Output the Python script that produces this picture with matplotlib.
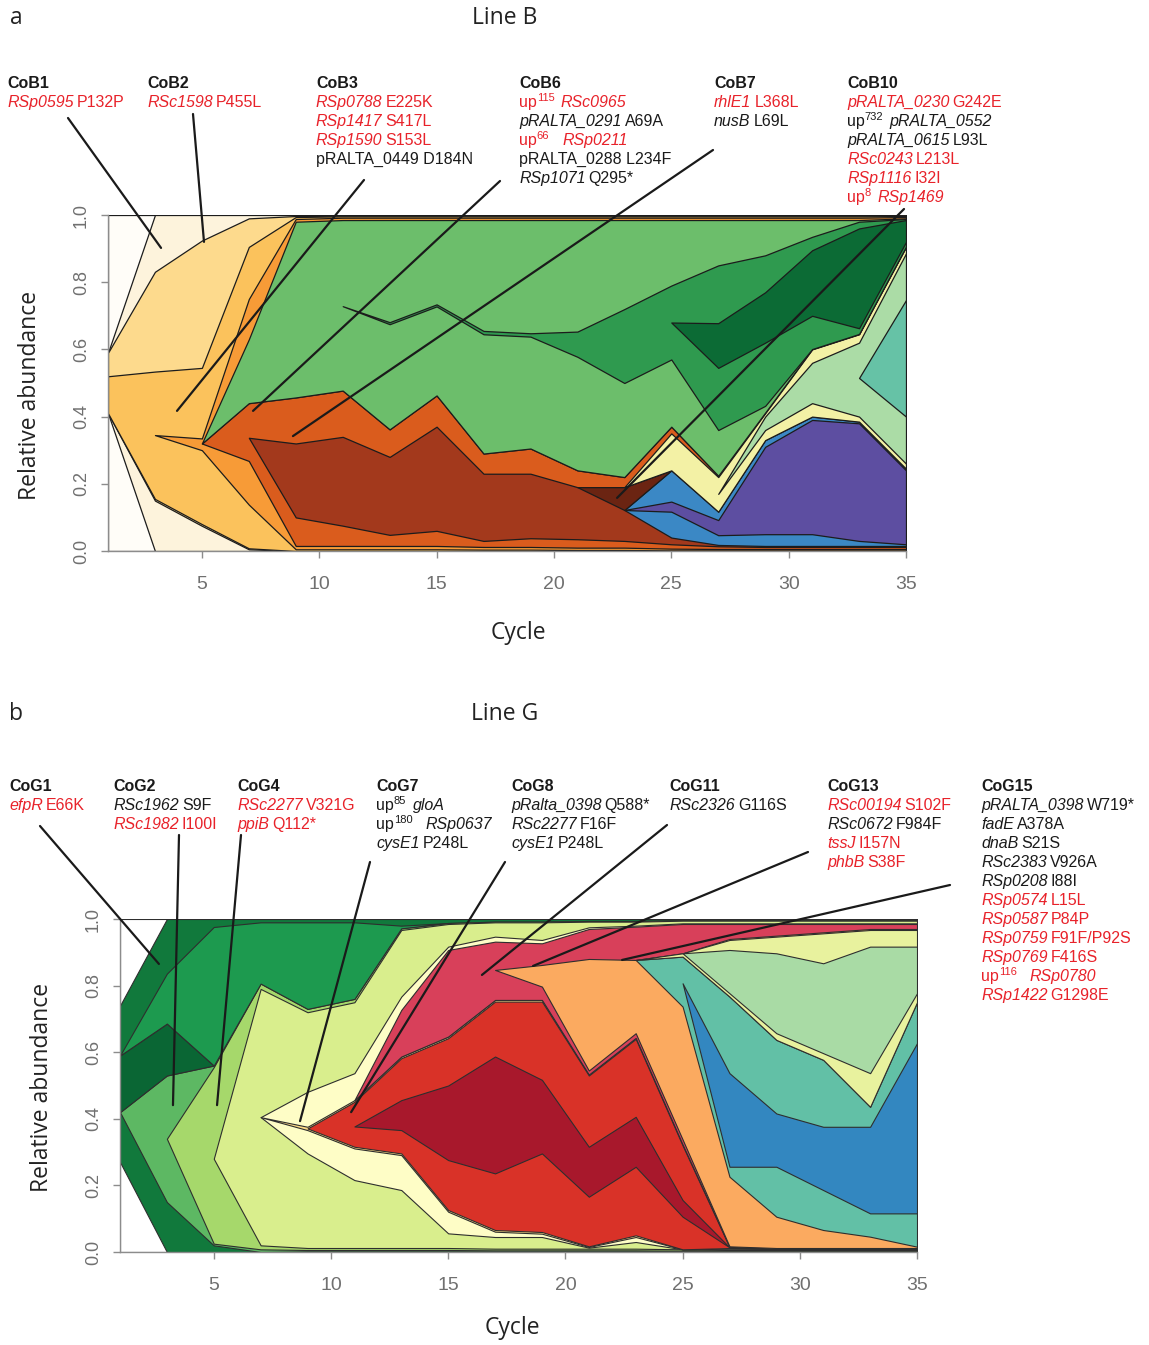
import re
import numpy as np
import matplotlib
matplotlib.use('Agg')
import matplotlib.pyplot as plt

W, H = 1149, 1345
RED = '#E8222A'
BLK = '#1A1A1A'

CYCLES = [1, 3, 5, 7, 9, 11, 13, 15, 17, 19, 21, 23, 25, 27, 29, 31, 33, 35]
XTICKS = [5, 10, 15, 20, 25, 30, 35]
YTICKS = [0.0, 0.2, 0.4, 0.6, 0.8, 1.0]
YTICKLABELS = ['0.0', '0.2', '0.4', '0.6', '0.8', '1.0']
Z = [0, 0, 0, 0, 0, 0, 0, 0, 0, 0, 0, 0, 0, 0, 0, 0, 0, 0]

# ---------------- Panel a (Line B): own abundance of each genotype, split below / above its descendants
A_ANC_LO = [0.41, 0, 0, 0, 0, 0, 0, 0, 0, 0, 0, 0, 0, 0, 0, 0, 0, 0]
A_ANC_HI = [0.41, 0, 0, 0, 0, 0, 0, 0, 0, 0, 0, 0, 0, 0, 0, 0, 0, 0]
A_B1_LO = [0, 0.15, 0.075, 0.005, 0, 0, 0, 0, 0, 0, 0, 0, 0, 0, 0, 0, 0, 0]
A_B1_HI = [0, 0.169, 0.076, 0.01, 0.003, 0.002, 0.002, 0.002, 0.002, 0.002, 0.002, 0.002, 0.002, 0.002, 0.002, 0.002, 0.002, 0.001]
A_B2_LO = [0, 0.005, 0.005, 0.003, 0, 0, 0, 0, 0, 0, 0, 0, 0, 0, 0, 0, 0, 0]
A_B2_HI = [0.07, 0.297, 0.379, 0.085, 0.003, 0.002, 0.002, 0.002, 0.002, 0.002, 0.002, 0.002, 0.002, 0.002, 0.002, 0.002, 0.002, 0.002]
A_B3_LO = [0.11, 0.19, 0.22, 0.13, 0.005, 0.005, 0.005, 0.005, 0.004, 0.004, 0.003, 0.003, 0.002, 0.002, 0.002, 0.002, 0.002, 0.002]
A_B3_HI = [0, 0.189, 0.21, 0.155, 0.006, 0.004, 0.004, 0.004, 0.004, 0.004, 0.004, 0.004, 0.004, 0.004, 0.004, 0.004, 0.004, 0.003]
A_O_LO = [0, 0, 0.02, 0.13, 0.01, 0.01, 0.01, 0.01, 0.008, 0.008, 0.007, 0.007, 0.005, 0.004, 0.004, 0.004, 0.004, 0.004]
A_O_HI = [0, 0, 0.015, 0.12, 0.008, 0.007, 0.007, 0.007, 0.007, 0.007, 0.007, 0.007, 0.007, 0.007, 0.007, 0.007, 0.007, 0.004]
A_R_LO = [0, 0, 0, 0.069, 0.085, 0.06, 0.033, 0.045, 0.018, 0.026, 0.025, 0.02, 0.013, 0.008, 0.006, 0.006, 0.006, 0.006]
A_R_HI = [0, 0, 0, 0.103, 0.137, 0.137, 0.082, 0.093, 0.06, 0.075, 0.05, 0.03, 0.02, 0.004, 0.002, 0.001, 0.001, 0.001]
A_BR = [0, 0, 0, 0, 0.22, 0.263, 0.232, 0.31, 0.2, 0.192, 0.155, 0.092, 0.02, 0.004, 0.003, 0.003, 0.003, 0.003]
A_BL_LO = [0, 0, 0, 0, 0, 0, 0, 0, 0, 0, 0, 0, 0.077, 0.029, 0.035, 0.035, 0.015, 0.005]
A_P = [0, 0, 0, 0, 0, 0, 0, 0, 0, 0, 0, 0, 0.03, 0.045, 0.26, 0.34, 0.35, 0.22]
A_BL_HI = [0, 0, 0, 0, 0, 0, 0, 0, 0, 0, 0, 0, 0.093, 0.025, 0.02, 0.01, 0.005, 0.005]
A_DB = [0, 0, 0, 0, 0, 0, 0, 0, 0, 0, 0, 0.068, 0, 0, 0, 0, 0, 0]
A_Y_LO = [0, 0, 0, 0, 0, 0, 0, 0, 0, 0, 0, 0, 0.11, 0.053, 0.03, 0.04, 0.015, 0.015]
A_Y_HI = [0, 0, 0, 0, 0, 0, 0, 0, 0, 0, 0, 0, 0, 0.05, 0.01, 0.04, 0.025, 0.019]
A_LG_LO = [0, 0, 0, 0, 0, 0, 0, 0, 0, 0, 0, 0, 0, 0, 0.04, 0.12, 0.115, 0.14]
A_LG_HI = [0, 0, 0, 0, 0, 0, 0, 0, 0, 0, 0, 0, 0, 0, 0, 0, 0.105, 0.139]
A_T = [0, 0, 0, 0, 0, 0, 0, 0, 0, 0, 0, 0, 0, 0, 0, 0, 0, 0.347]
A_G1_LO = [0, 0, 0, 0.19, 0.523, 0.25, 0.313, 0.265, 0.355, 0.333, 0.338, 0.28, 0.2, 0.136, 0.02, 0, 0, 0]
A_G1_HI = [0, 0, 0, 0, 0, 0.255, 0.304, 0.251, 0.33, 0.337, 0.332, 0.265, 0.195, 0.135, 0.105, 0.05, 0.005, 0.002]
A_G2_LO = [0, 0, 0, 0, 0, 0, 0.006, 0.006, 0.01, 0.01, 0.075, 0.22, 0.11, 0.185, 0.188, 0.099, 0.017, 0.014]
A_G2_HI = [0, 0, 0, 0, 0, 0, 0, 0, 0, 0, 0, 0, 0.11, 0.172, 0.11, 0.04, 0.02, 0.003]
A_G3 = [0, 0, 0, 0, 0, 0, 0, 0, 0, 0, 0, 0, 0, 0.133, 0.15, 0.195, 0.297, 0.065]

# ---------------- Panel b (Line G)
B_ANC_LO = [0.27, 0, 0, 0, 0, 0, 0, 0, 0, 0, 0, 0, 0, 0, 0, 0, 0, 0]
B_ANC_HI = [0.26, 0, 0, 0, 0, 0, 0, 0, 0, 0, 0, 0, 0, 0, 0, 0, 0, 0]
B_G1_LO = [0.15, 0.15, 0.02, 0, 0.002, 0.002, 0.002, 0.002, 0.002, 0.002, 0.002, 0.002, 0.002, 0.002, 0.002, 0.002, 0.002, 0.002]
B_G1_HI = [0.15, 0.164, 0.024, 0.01, 0.01, 0.01, 0.02, 0.012, 0.008, 0.008, 0.006, 0.006, 0.004, 0.004, 0.004, 0.004, 0.004, 0.004]
B_C2_LO = [0, 0.19, 0.005, 0.008, 0.004, 0.004, 0.004, 0.004, 0.003, 0.003, 0.003, 0.003, 0.002, 0.002, 0.002, 0.002, 0.002, 0.002]
B_C2_HI = [0, 0.19, 0.005, 0, 0, 0, 0, 0, 0, 0, 0, 0, 0, 0, 0, 0, 0, 0]
B_C4_LO = [0, 0, 0.255, 0.012, 0.006, 0.006, 0.006, 0.006, 0.005, 0.005, 0.005, 0.005, 0.004, 0.002, 0.002, 0.002, 0.002, 0.002]
B_C4_HI = [0, 0, 0.275, 0.016, 0.01, 0.01, 0.005, 0.003, 0.002, 0.002, 0.002, 0.002, 0.001, 0.001, 0.001, 0.001, 0.001, 0.001]
B_D9_LO = [0, 0, 0, 0.385, 0.284, 0.204, 0.174, 0.044, 0.035, 0.035, 0.003, 0.02, 0, 0.002, 0.002, 0.002, 0.002, 0.002]
B_D9_HI = [0, 0, 0, 0.385, 0.239, 0.213, 0.2, 0.068, 0.043, 0.053, 0.017, 0.012, 0.008, 0.008, 0.008, 0.008, 0.008, 0.008]
B_C7_LO = [0, 0, 0, 0, 0.07, 0.095, 0.105, 0.065, 0.016, 0.01, 0.002, 0.015, 0, 0.002, 0.001, 0.001, 0.001, 0.001]
B_C7_HI = [0, 0, 0, 0, 0.105, 0.081, 0.04, 0.01, 0.015, 0.01, 0.005, 0.003, 0.002, 0.002, 0.002, 0.002, 0.002, 0.002]
B_C8_LO = [0, 0, 0, 0, 0.005, 0.005, 0.005, 0.005, 0.005, 0.005, 0.002, 0.005, 0, 0.002, 0.001, 0.001, 0.001, 0.001]
B_C8_HI = [0, 0, 0, 0, 0.005, 0.005, 0.005, 0.005, 0.005, 0.005, 0.003, 0.003, 0.003, 0.001, 0, 0, 0, 0]
B_RED_LO = [0, 0, 0, 0, 0, 0.061, 0.07, 0.15, 0.17, 0.236, 0.149, 0.206, 0.098, 0.002, 0.001, 0.001, 0.001, 0.001]
B_RED_HI = [0, 0, 0, 0, 0, 0.074, 0.126, 0.142, 0.165, 0.235, 0.214, 0.234, 0.164, 0.001, 0, 0, 0, 0]
B_DR = [0, 0, 0, 0, 0, 0, 0.09, 0.224, 0.351, 0.221, 0.15, 0.15, 0.05, 0, 0, 0, 0, 0]
B_CRIM_LO = [0, 0, 0, 0, 0, 0, 0.14, 0.26, 0.09, 0.04, 0.012, 0.014, 0.015, 0.001, 0.001, 0.001, 0.001, 0.001]
B_CRIM_HI = [0, 0, 0, 0, 0, 0, 0, 0, 0.085, 0.065, 0.09, 0.1, 0.088, 0.045, 0.035, 0.025, 0.015, 0.015]
B_OR_LO = [0, 0, 0, 0, 0, 0, 0, 0, 0, 0.065, 0.335, 0.22, 0.399, 0.209, 0.094, 0.054, 0.034, 0.004]
B_OR_HI = [0, 0, 0, 0, 0, 0, 0, 0, 0, 0, 0, 0, 0, 0.003, 0.003, 0.003, 0.003, 0.003]
B_T_LO = [0, 0, 0, 0, 0, 0, 0, 0, 0, 0, 0, 0, 0.07, 0.03, 0.15, 0.12, 0.07, 0.1]
B_T_HI = [0, 0, 0, 0, 0, 0, 0, 0, 0, 0, 0, 0, 0.08, 0.23, 0.221, 0.201, 0.06, 0.123]
B_BL = [0, 0, 0, 0, 0, 0, 0, 0, 0, 0, 0, 0, 0, 0.281, 0.16, 0.19, 0.26, 0.511]
B_Y_LO = [0, 0, 0, 0, 0, 0, 0, 0, 0, 0, 0, 0, 0.01, 0.01, 0.02, 0.02, 0.101, 0.027]
B_Y_HI = [0, 0, 0, 0, 0, 0, 0, 0, 0, 0, 0, 0, 0, 0.03, 0.05, 0.09, 0.05, 0.05]
B_LG = [0, 0, 0, 0, 0, 0, 0, 0, 0, 0, 0, 0, 0, 0.13, 0.24, 0.27, 0.38, 0.14]
B_G1B = [0.17, 0.156, 0, 0, 0, 0, 0, 0, 0, 0, 0, 0, 0, 0, 0, 0, 0, 0]
B_GM = [0, 0.15, 0.416, 0.184, 0.26, 0.23, 0.008, 0, 0, 0, 0, 0, 0, 0, 0, 0, 0, 0]

# (name, parent, colour, own-below, own-above); children are stacked in list order
A_TREE = [
    ('anc', None, '#FFFDF8', A_ANC_LO, A_ANC_HI),
    ('B1', 'anc', '#FDF3DC', A_B1_LO, A_B1_HI),
    ('B2', 'B1', '#FDDA8D', A_B2_LO, A_B2_HI),
    ('B3', 'B2', '#FBC25C', A_B3_LO, A_B3_HI),
    ('O', 'B3', '#F79B37', A_O_LO, A_O_HI),
    ('R', 'O', '#DA5C1D', A_R_LO, A_R_HI),
    ('Br', 'R', '#A3391C', A_BR, Z),
    ('Bl', 'Br', '#3B88C5', A_BL_LO, A_BL_HI),
    ('P', 'Bl', '#5D4EA1', A_P, Z),
    ('DB', 'Br', '#6B2412', A_DB, Z),
    ('Y', 'R', '#F3F1A5', A_Y_LO, A_Y_HI),
    ('LG', 'Y', '#ABDCA6', A_LG_LO, A_LG_HI),
    ('T', 'LG', '#66C2A6', A_T, Z),
    ('G1', 'O', '#6CBE6B', A_G1_LO, A_G1_HI),
    ('G2', 'G1', '#2F9A4F', A_G2_LO, A_G2_HI),
    ('G3', 'G2', '#0C6B35', A_G3, Z),
]

B_TREE = [
    ('anc', None, '#FFFFFF', B_ANC_LO, B_ANC_HI),
    ('G1', 'anc', '#11793C', B_G1_LO, B_G1_HI),
    ('C2', 'G1', '#5DB863', B_C2_LO, B_C2_HI),
    ('C4', 'C2', '#A6D86B', B_C4_LO, B_C4_HI),
    ('D9', 'C4', '#D9EE8D', B_D9_LO, B_D9_HI),
    ('C7', 'D9', '#FEFDC6', B_C7_LO, B_C7_HI),
    ('C8', 'C7', '#FDDB86', B_C8_LO, B_C8_HI),
    ('Red', 'C8', '#D93228', B_RED_LO, B_RED_HI),
    ('DR', 'Red', '#A8182C', B_DR, Z),
    ('Crim', 'C7', '#D8405A', B_CRIM_LO, B_CRIM_HI),
    ('Or', 'Crim', '#FBAA60', B_OR_LO, B_OR_HI),
    ('T', 'Or', '#62C0A6', B_T_LO, B_T_HI),
    ('Bl', 'T', '#3387C0', B_BL, Z),
    ('Y', 'Or', '#E8F29E', B_Y_LO, B_Y_HI),
    ('LG', 'Y', '#A9DBA5', B_LG, Z),
    ('G1b', 'G1', '#0A6634', B_G1B, Z),
    ('Gm', 'G1', '#1D9A4F', B_GM, Z),
]

# ---------------- annotations: (header, x px, lines, pointer start px, pointer target (cycle, abundance))
A_LABELS = [
    ('CoB1', 7, [('<i>RSp0595</i> P132P', RED)], (68, 118), (3.26, 0.902)),
    ('CoB2', 147, [('<i>RSc1598</i> P455L', RED)], (193, 114), (5.09, 0.92)),
    ('CoB3', 316, [('<i>RSp0788</i> E225K', RED), ('<i>RSp1417</i> S417L', RED),
                   ('<i>RSp1590</i> S153L', RED), ('pRALTA_0449 D184N', BLK)], (364, 180), (3.94, 0.417)),
    ('CoB6', 519, [('up^{115} <i>RSc0965</i>', RED), ('<i>pRALTA_0291</i> A69A', BLK),
                   ('up^{66}  <i>RSp0211</i>', RED), ('pRALTA_0288 L234F', BLK),
                   ('<i>RSp1071</i> Q295*', BLK)], (500, 181), (7.18, 0.417)),
    ('CoB7', 714, [('<i>rhlE1</i> L368L', RED), ('<i>nusB</i> L69L', BLK)], (713, 150), (8.88, 0.342)),
    ('CoB10', 847, [('<i>pRALTA_0230</i> G242E', RED), ('up^{732} <i>pRALTA_0552</i>', BLK),
                    ('<i>pRALTA_0615</i> L93L', BLK), ('<i>RSc0243</i> L213L', RED),
                    ('<i>RSp1116</i> I32I', RED), ('up^{8} <i>RSp1469</i>', RED)], (904, 209), (22.69, 0.158)),
]
B_LABELS = [
    ('CoG1', 9, [('<i>efpR</i> E66K', RED)], (40, 826), (2.66, 0.865)),
    ('CoG2', 113, [('<i>RSc1962</i> S9F', BLK), ('<i>RSc1982</i> I100I', RED)], (179, 835), (3.26, 0.441)),
    ('CoG4', 237, [('<i>RSc2277</i> V321G', RED), ('<i>ppiB</i> Q112*', RED)], (241, 835), (5.14, 0.441)),
    ('CoG7', 376, [('up^{85} <i>gloA</i>', BLK), ('up^{180}  <i>RSp0637</i>', BLK),
                   ('<i>cysE1</i> P248L', BLK)], (370, 862), (8.68, 0.393)),
    ('CoG8', 511, [('<i>pRalta_0398</i> Q588*', BLK), ('<i>RSc2277</i> F16F', BLK),
                   ('<i>cysE1</i> P248L', BLK)], (505, 862), (10.86, 0.42)),
    ('CoG11', 669, [('<i>RSc2326</i> G116S', BLK)], (667, 825), (16.44, 0.832)),
    ('CoG13', 827, [('<i>RSc00194</i> S102F', RED), ('<i>RSc0672</i> F984F', BLK),
                    ('<i>tssJ</i> I157N', RED), ('<i>phbB</i> S38F', RED)], (808, 852), (18.62, 0.859)),
    ('CoG15', 981, [('<i>pRALTA_0398</i> W719*', BLK), ('<i>fadE</i> A378A', BLK), ('<i>dnaB</i> S21S', BLK),
                    ('<i>RSc2383</i> V926A', BLK), ('<i>RSp0208</i> I88I', BLK), ('<i>RSp0574</i> L15L', RED),
                    ('<i>RSp0587</i> P84P', RED), ('<i>RSp0759</i> F91F/P92S', RED), ('<i>RSp0769</i> F416S', RED),
                    ('up^{116}  <i>RSp0780</i>', RED), ('<i>RSp1422</i> G1298E', RED)], (950, 885), (22.42, 0.877)),
]

TXT_SIZE = 11.5


def muller(ax, tree, edge, lw):
    x = np.array(CYCLES, dtype=float)
    n = len(x)
    info = {t[0]: t for t in tree}
    kids = {t[0]: [] for t in tree}
    root = None
    for t in tree:
        if t[1] is None:
            root = t[0]
        else:
            kids[t[1]].append(t[0])
    ext = {}
    order = []

    def rec(k, base):
        order.append(k)
        lo = base.copy()
        pos = base + np.array(info[k][3], dtype=float)
        for c in kids[k]:
            pos = rec(c, pos)
        pos = pos + np.array(info[k][4], dtype=float)
        ext[k] = (lo, pos)
        return pos

    total = rec(root, np.zeros(n))
    for k in order:
        lo, hi = ext[k]
        lo, hi = lo / total, hi / total
        w = hi - lo
        idx = np.where(w > 1e-9)[0]
        if len(idx) == 0:
            continue
        s = max(idx[0] - 1, 0)
        e = min(idx[-1] + 1, n - 1)
        ax.fill_between(x[s:e + 1], lo[s:e + 1], hi[s:e + 1], facecolor=info[k][2],
                        edgecolor=edge, linewidth=lw, zorder=1)


def style_axes(ax):
    ax.set_xlim(1, 35)
    ax.set_ylim(0, 1)
    ax.set_xticks(XTICKS)
    ax.set_xticklabels([str(v) for v in XTICKS], family=['Liberation Sans Narrow', 'Liberation Sans'],
                       fontsize=14, color='#707070')
    ax.set_yticks(YTICKS)
    ax.set_yticklabels(YTICKLABELS, rotation=90, va='center', family=['Liberation Sans Narrow', 'Liberation Sans'],
                       fontsize=13, color='#707070')
    ax.tick_params(axis='x', direction='out', length=5, width=1, color='#8c8c8c', pad=13)
    ax.tick_params(axis='y', direction='out', length=5, width=1, color='#8c8c8c', pad=8)
    for sp in ['top', 'right']:
        ax.spines[sp].set_visible(False)
    for sp in ['left', 'bottom']:
        ax.spines[sp].set_color('#8c8c8c')
        ax.spines[sp].set_linewidth(1.0)


def rich_line(fig, renderer, x_px, base_px, markup, color, size, weight='normal'):
    tokens = re.findall(r'<i>.*?</i>|\^\{.*?\}|[^<^]+', markup)
    space = 0.2 * size * 100 / 72
    x = float(x_px)
    gap = 0
    for tok in tokens:
        if tok.startswith('<i>'):
            txt, style, sup = tok[3:-4], 'italic', False
        elif tok.startswith('^{'):
            txt, style, sup = tok[2:-1], 'normal', True
        else:
            txt, style, sup = tok, 'normal', False
        lead = len(txt) - len(txt.lstrip(' '))
        trail = len(txt) - len(txt.rstrip(' '))
        core = txt.strip(' ')
        gap += lead
        if core:
            x += gap * space
            fs = size * 0.7 if sup else size
            yb = base_px - (6 if sup else 0)
            t = fig.text(x / W, 1 - yb / H, core, fontsize=fs, style=style, weight=weight, color=color,
                         family='Liberation Sans', ha='left', va='baseline')
            x += t.get_window_extent(renderer).width
            gap = 0
        gap += trail


def labels(fig, renderer, ax, specs, y0):
    for head, x, lines, start, target in specs:
        rich_line(fig, renderer, x, y0 + 5, head, BLK, TXT_SIZE, weight='bold')
        for i, (s, col) in enumerate(lines):
            rich_line(fig, renderer, x, y0 + 5 + 19 * (i + 1), s, col, TXT_SIZE)
        ax.annotate('', xy=target, xycoords='data', xytext=(start[0] / W, 1 - start[1] / H),
                    textcoords='figure fraction', annotation_clip=False, zorder=10,
                    arrowprops=dict(arrowstyle='-', color='#1a1a1a', lw=1.6, shrinkA=0, shrinkB=0))


fig = plt.figure(figsize=(W / 100, H / 100), dpi=100)
fig.patch.set_facecolor('white')
renderer = fig.canvas.get_renderer()

ax_a = fig.add_axes([108 / W, 1 - 551 / H, (906 - 108) / W, 336 / H])
muller(ax_a, A_TREE, '#1c1c1c', 0.9)
style_axes(ax_a)
labels(fig, renderer, ax_a, A_LABELS, 83)

ax_b = fig.add_axes([120 / W, 1 - 1252 / H, (917 - 120) / W, 333 / H])
muller(ax_b, B_TREE, '#2e2e2e', 0.8)
style_axes(ax_b)
labels(fig, renderer, ax_b, B_LABELS, 786)

title_font = dict(family='Open Sans', fontsize=16.5, color='#222222')
fig.text(16 / W, 1 - 18 / H, 'a', ha='center', va='center', **title_font)
fig.text(505 / W, 1 - 18 / H, 'Line B', ha='center', va='center', **title_font)
fig.text(16 / W, 1 - 714 / H, 'b', ha='center', va='center', **title_font)
fig.text(505 / W, 1 - 714 / H, 'Line G', ha='center', va='center', **title_font)
fig.text(30 / W, 1 - 395 / H, 'Relative abundance', rotation=90, ha='center', va='center', **title_font)
fig.text(42 / W, 1 - 1087 / H, 'Relative abundance', rotation=90, ha='center', va='center', **title_font)
fig.text(518 / W, 1 - 633 / H, 'Cycle', ha='center', va='center', **title_font)
fig.text(512 / W, 1 - 1328 / H, 'Cycle', ha='center', va='center', **title_font)

fig.savefig('out.png', dpi=100, facecolor='white')
